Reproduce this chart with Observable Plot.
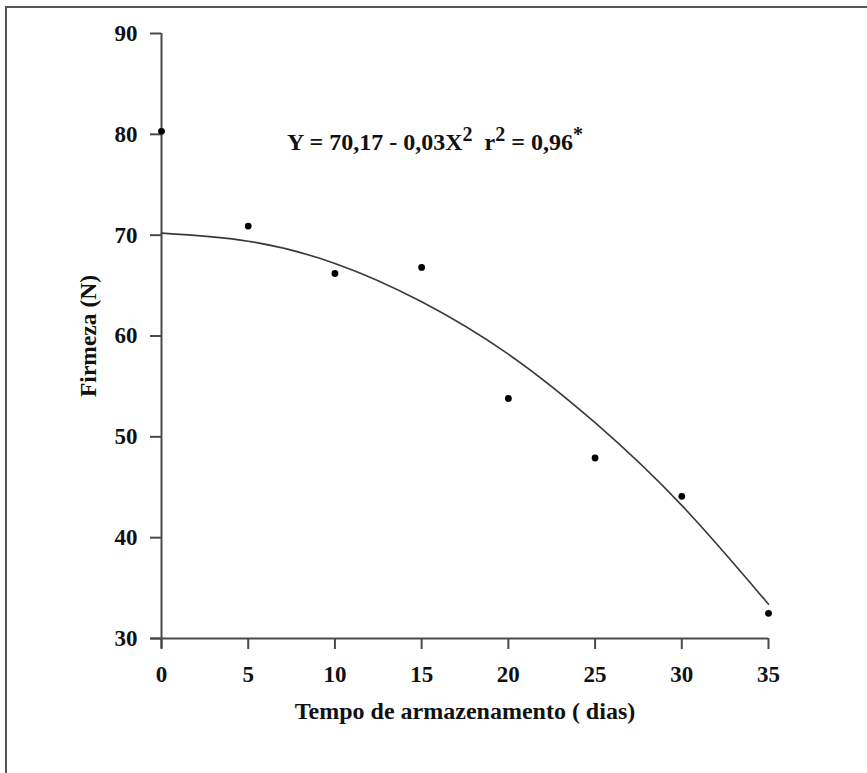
<!DOCTYPE html>
<html>
<head>
<meta charset="utf-8">
<script src="https://cdn.jsdelivr.net/npm/d3@7"></script>
<script src="https://cdn.jsdelivr.net/npm/@observablehq/plot@0.6"></script>
<style>
  html, body { margin: 0; padding: 0; background: #fff; overflow: hidden; }
  #wrap { position: relative; width: 867px; height: 773px; }
  #frame { position: absolute; left: 5px; top: 6px; right: -10px; bottom: -10px;
           border-top: 2px solid #555; border-left: 2px solid #555; pointer-events: none; }
  #chart { position: absolute; left: 0; top: 0; }
  #chart svg, #chart svg text, #chart svg tspan { font-family: "Liberation Serif", "DejaVu Serif", serif !important; font-weight: bold; }
</style>
</head>
<body>
<div id="wrap"><div id="chart"></div><div id="frame"></div></div>
<script>
// Observed data (storage days vs firmness, N)
const days = [0, 5, 10, 15, 20, 25, 30, 35];
const firmness = [80.3, 70.9, 66.2, 66.8, 53.8, 47.9, 44.1, 32.5];

// Fitted curve
const fitDays = [0, 5, 10, 15, 20, 25, 30, 35];
const fitFirmness = [70.2, 69.4, 67.2, 63.4, 58.2, 51.4, 43.2, 33.4];

// Tick labels
const xTicks = [0, 5, 10, 15, 20, 25, 30, 35];
const yTicks = [30, 40, 50, 60, 70, 80, 90];

// Texts
const equationText = "Y = 70,17 - 0,03X2  r2 = 0,96*";
const xTitle = "Tempo de armazenamento ( dias)";
const yTitle = "Firmeza (N)";

const points = days.map((d, i) => ({day: d, value: firmness[i]}));
const fit = fitDays.map((d, i) => ({day: d, value: fitFirmness[i]}));

const axisColor = "#4a4a4a";
const serif = "'Liberation Serif', 'DejaVu Serif', serif";

const chart = Plot.plot({
  width: 867,
  height: 773,
  marginLeft: 161,
  marginRight: 99,
  marginTop: 33,
  marginBottom: 135,
  x: {domain: [0, 35]},
  y: {domain: [30, 90]},
  style: {
    fontFamily: serif,
    fontWeight: "bold",
    fontSize: "22px",
    color: "#111",
    background: "transparent"
  },
  marks: [
    Plot.axisY(yTicks, {tickSize: 11, tickPadding: 13, label: null, stroke: axisColor, strokeWidth: 2, fontSize: 23, tickFormat: d => String(d)}),
    Plot.axisX(xTicks, {tickSize: 11, tickPadding: 16, label: null, stroke: axisColor, strokeWidth: 2, fontSize: 23, tickFormat: d => String(d)}),
    Plot.ruleX([0], {y1: 90, y2: 29, stroke: axisColor, strokeWidth: 2}),
    Plot.ruleY([30], {x1: -0.62, x2: 35, stroke: axisColor, strokeWidth: 2}),
    Plot.line(fit, {x: "day", y: "value", curve: "natural", stroke: "#3a3a3a", strokeWidth: 1.6}),
    Plot.dot(points, {x: "day", y: "value", r: 3.4, fill: "#000", stroke: "none"}),
    Plot.text([equationText], {x: 15.77, y: 79.2, text: d => d, fontSize: 24, fill: "#111", className: "eq"}),
    Plot.text([yTitle], {frameAnchor: "left", textAnchor: "middle", dx: -73, dy: 0, rotate: -90, text: d => d, fontSize: 23.5, fill: "#111"}),
    Plot.text([xTitle], {frameAnchor: "bottom", dy: 80, text: d => d, fontSize: 24, fill: "#111"})
  ]
});

document.getElementById("chart").appendChild(chart);

// Render superscripts in the equation as real text with raised tspans
const eq = chart.querySelector(".eq text");
if (eq) {
  const parts = [["Y = 70,17 - 0,03X", false], ["2", true], ["  r", false], ["2", true], [" = 0,96", false], ["*", true]];
  eq.textContent = "";
  eq.setAttribute("xml:space", "preserve");
  eq.style.whiteSpace = "pre";
  const ns = "http://www.w3.org/2000/svg";
  let raised = false;
  for (const [t, sup] of parts) {
    const ts = document.createElementNS(ns, "tspan");
    ts.textContent = t;
    if (sup && !raised) { ts.setAttribute("dy", "-9"); ts.setAttribute("font-size", "20"); raised = true; }
    else if (sup && raised) { ts.setAttribute("font-size", "20"); }
    else if (!sup && raised) { ts.setAttribute("dy", "9"); raised = false; }
    eq.appendChild(ts);
  }
}
</script>
</body>
</html>
